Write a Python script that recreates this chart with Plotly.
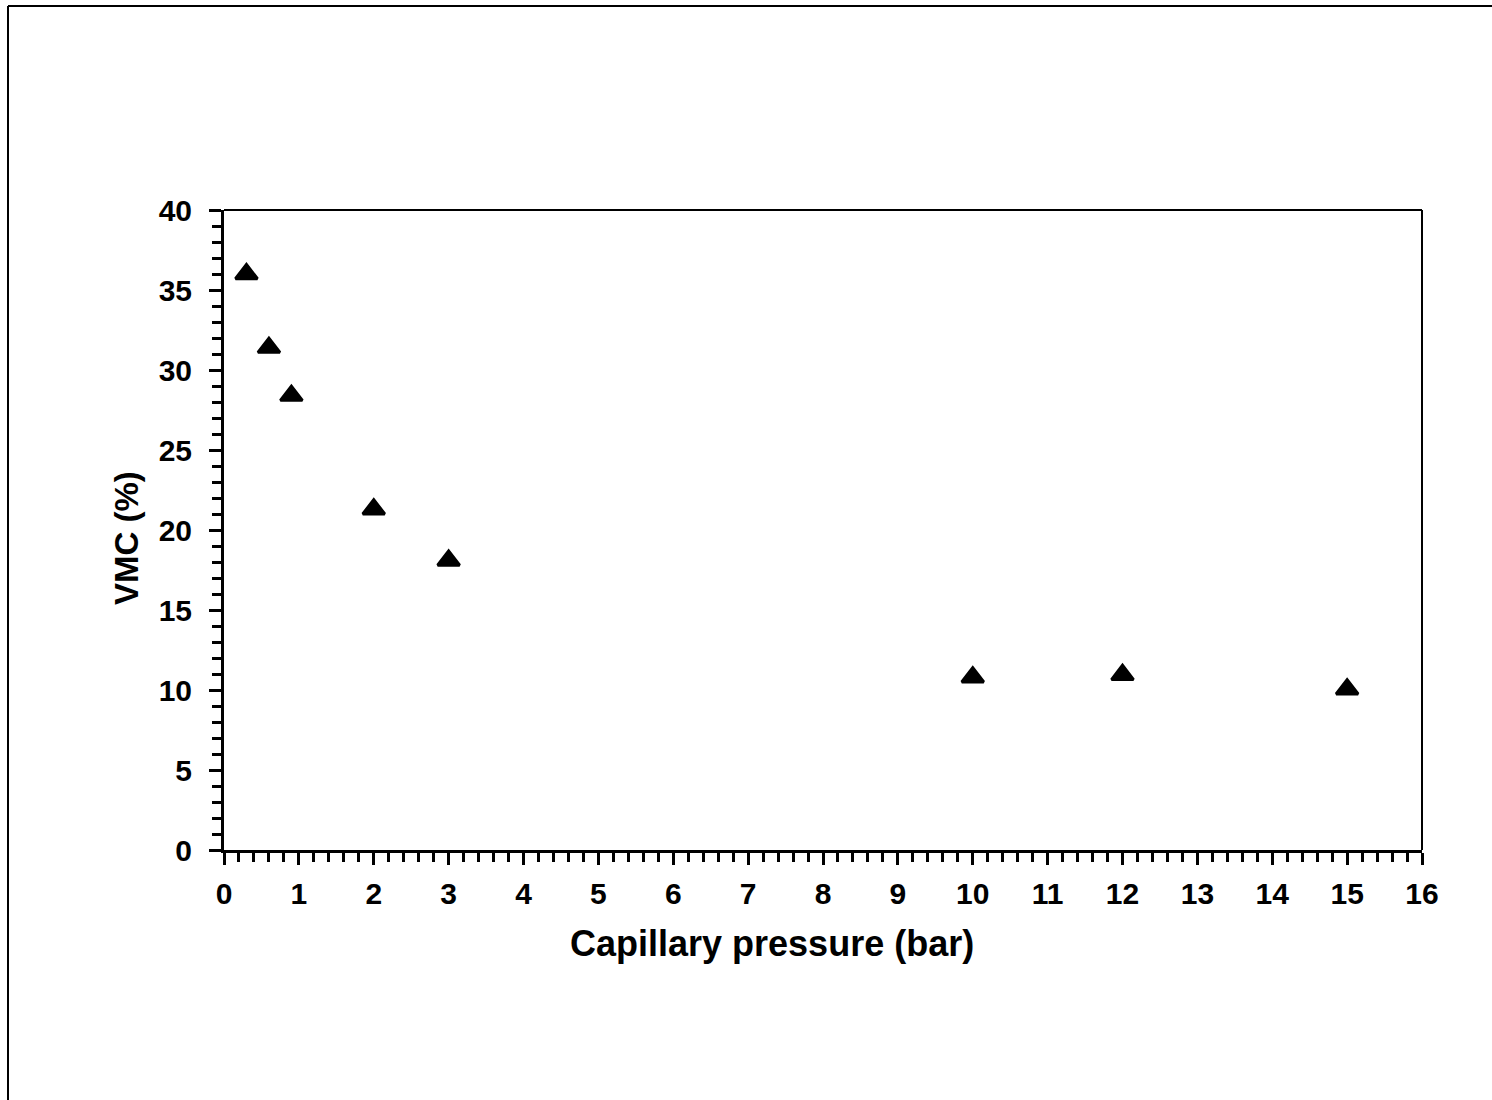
import plotly.graph_objects as go

# Capillary pressure (bar) vs volumetric moisture content (%)
pressure_bar = [0.3, 0.6, 0.9, 2, 3, 10, 12, 15]
vmc_percent = [36.0, 31.4, 28.4, 21.3, 18.1, 10.8, 10.95, 10.05]

x_ticks = list(range(0, 17))
y_ticks = list(range(0, 41, 5))

FONT = "Liberation Sans, Arial, sans-serif"

fig = go.Figure()
fig.add_trace(go.Scatter(
    x=pressure_bar,
    y=vmc_percent,
    mode="markers",
    marker=dict(symbol="triangle-up", size=19, color="black",
                line=dict(color="black", width=3)),
    showlegend=False,
    cliponaxis=False,
))

axis_common = dict(
    showgrid=False,
    zeroline=False,
    showline=True,
    linecolor="black",
    linewidth=3,
    ticks="outside",
    ticklen=12,
    tickwidth=3,
    tickcolor="black",
    tickfont=dict(family=FONT, size=30, color="black", weight="bold"),
)

fig.update_xaxes(
    range=[0, 16],
    tickvals=x_ticks,
    ticktext=[str(v) for v in x_ticks],
    ticklabelstandoff=3,
    minor=dict(dtick=0.2, ticks="outside", ticklen=9, tickwidth=3, tickcolor="black"),
    **axis_common,
)
fig.update_yaxes(
    range=[0, 40],
    tickvals=y_ticks,
    ticktext=[str(v) for v in y_ticks],
    ticklabelstandoff=11,
    minor=dict(dtick=1, ticks="outside", ticklen=9, tickwidth=3, tickcolor="black"),
    **axis_common,
)

# thinner top and right frame lines of the plot area
fig.add_shape(type="line", xref="paper", yref="paper", x0=0, x1=1, y0=1, y1=1,
              line=dict(color="black", width=2))
fig.add_shape(type="line", xref="paper", yref="paper", x0=1, x1=1, y0=0, y1=1,
              line=dict(color="black", width=2))

# outer chart border (top and left edges)
fig.add_shape(type="line", xref="paper", yref="paper", x0=-0.1803, x1=1.2, y0=1.3188, y1=1.3188,
              line=dict(color="black", width=2))
fig.add_shape(type="line", xref="paper", yref="paper", x0=-0.1803, x1=-0.1803, y0=-0.5, y1=1.3188,
              line=dict(color="black", width=2))

fig.add_annotation(text="Capillary pressure (bar)", xref="paper", yref="paper",
                   x=(772 - 224) / 1198, y=(850 - 943) / 640,
                   showarrow=False, xanchor="center", yanchor="middle",
                   font=dict(family=FONT, size=36, color="black", weight="bold"))
fig.add_annotation(text="VMC (%)", xref="paper", yref="paper",
                   x=(126 - 224) / 1198, y=(850 - 538) / 640, textangle=-90,
                   showarrow=False, xanchor="center", yanchor="middle",
                   font=dict(family=FONT, size=33, color="black", weight="bold"))

fig.update_layout(
    width=1492,
    height=1100,
    margin=dict(l=224, r=70, t=210, b=250),
    plot_bgcolor="white",
    paper_bgcolor="white",
)

fig.write_html("out.html")
